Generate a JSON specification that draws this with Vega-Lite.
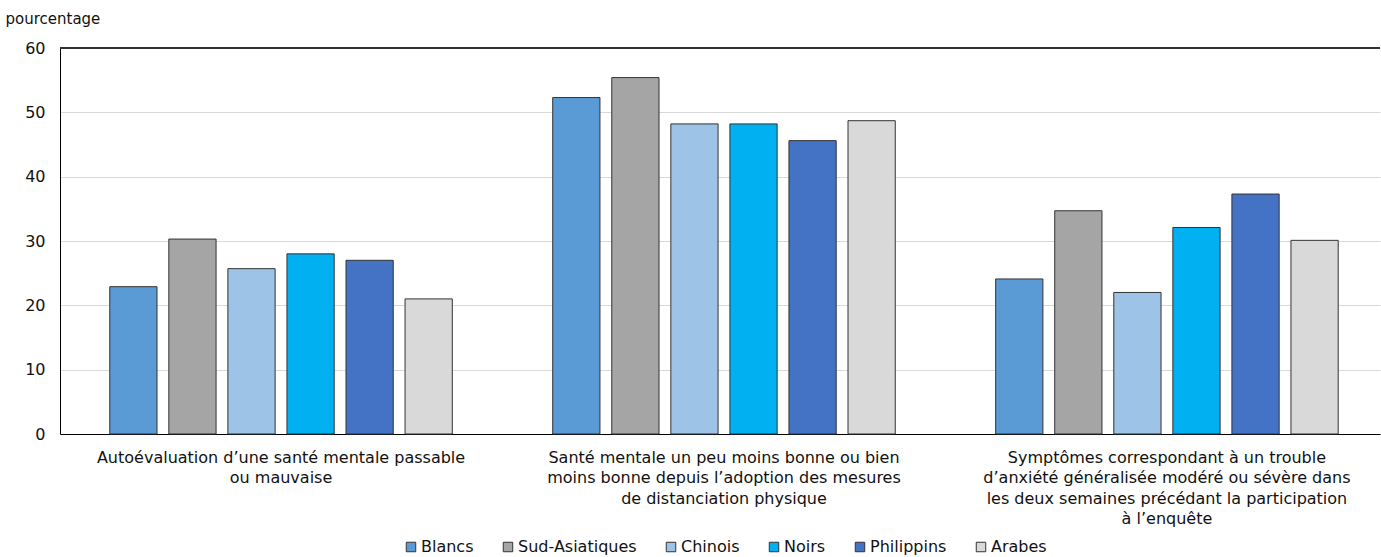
{
  "$schema": "https://vega.github.io/schema/vega-lite/v6.json",
  "width": 1320,
  "height": 386,
  "autosize": {"type": "none"},
  "padding": {"left": 60, "top": 48, "right": 1, "bottom": 123},
  "background": "white",
  "config": {
    "font": "DejaVu Sans",
    "view": {"stroke": null},
    "axis": {"labelFont": "DejaVu Sans", "titleFont": "DejaVu Sans", "labelColor": "#111", "titleColor": "#111"},
    "legend": {"labelFont": "DejaVu Sans"}
  },
  "data": {
    "values": [
      {"indicateur": "Autoévaluation d’une santé mentale passable|ou mauvaise", "groupe": "Blancs", "pourcentage": 22.9},
      {"indicateur": "Autoévaluation d’une santé mentale passable|ou mauvaise", "groupe": "Sud-Asiatiques", "pourcentage": 30.3},
      {"indicateur": "Autoévaluation d’une santé mentale passable|ou mauvaise", "groupe": "Chinois", "pourcentage": 25.7},
      {"indicateur": "Autoévaluation d’une santé mentale passable|ou mauvaise", "groupe": "Noirs", "pourcentage": 28.0},
      {"indicateur": "Autoévaluation d’une santé mentale passable|ou mauvaise", "groupe": "Philippins", "pourcentage": 27.0},
      {"indicateur": "Autoévaluation d’une santé mentale passable|ou mauvaise", "groupe": "Arabes", "pourcentage": 21.0},
      {"indicateur": "Santé mentale un peu moins bonne ou bien|moins bonne depuis l’adoption des mesures|de distanciation physique", "groupe": "Blancs", "pourcentage": 52.3},
      {"indicateur": "Santé mentale un peu moins bonne ou bien|moins bonne depuis l’adoption des mesures|de distanciation physique", "groupe": "Sud-Asiatiques", "pourcentage": 55.4},
      {"indicateur": "Santé mentale un peu moins bonne ou bien|moins bonne depuis l’adoption des mesures|de distanciation physique", "groupe": "Chinois", "pourcentage": 48.2},
      {"indicateur": "Santé mentale un peu moins bonne ou bien|moins bonne depuis l’adoption des mesures|de distanciation physique", "groupe": "Noirs", "pourcentage": 48.2},
      {"indicateur": "Santé mentale un peu moins bonne ou bien|moins bonne depuis l’adoption des mesures|de distanciation physique", "groupe": "Philippins", "pourcentage": 45.6},
      {"indicateur": "Santé mentale un peu moins bonne ou bien|moins bonne depuis l’adoption des mesures|de distanciation physique", "groupe": "Arabes", "pourcentage": 48.7},
      {"indicateur": "Symptômes correspondant à un trouble|d’anxiété généralisée modéré ou sévère dans|les deux semaines précédant la participation|à l’enquête", "groupe": "Blancs", "pourcentage": 24.1},
      {"indicateur": "Symptômes correspondant à un trouble|d’anxiété généralisée modéré ou sévère dans|les deux semaines précédant la participation|à l’enquête", "groupe": "Sud-Asiatiques", "pourcentage": 34.7},
      {"indicateur": "Symptômes correspondant à un trouble|d’anxiété généralisée modéré ou sévère dans|les deux semaines précédant la participation|à l’enquête", "groupe": "Chinois", "pourcentage": 22.0},
      {"indicateur": "Symptômes correspondant à un trouble|d’anxiété généralisée modéré ou sévère dans|les deux semaines précédant la participation|à l’enquête", "groupe": "Noirs", "pourcentage": 32.1},
      {"indicateur": "Symptômes correspondant à un trouble|d’anxiété généralisée modéré ou sévère dans|les deux semaines précédant la participation|à l’enquête", "groupe": "Philippins", "pourcentage": 37.3},
      {"indicateur": "Symptômes correspondant à un trouble|d’anxiété généralisée modéré ou sévère dans|les deux semaines précédant la participation|à l’enquête", "groupe": "Arabes", "pourcentage": 30.1}
    ]
  },
  "layer": [
    {
      "mark": {"type": "bar", "stroke": "#333333", "strokeWidth": 1},
      "encoding": {
        "x": {
          "field": "indicateur",
          "type": "nominal",
          "sort": null,
          "scale": {"paddingInner": 0.2, "paddingOuter": 0.09, "align": 0.55},
          "axis": {
            "title": null,
            "labelAngle": 0,
            "labelExpr": "split(datum.label, '|')",
            "labelFontSize": 16,
            "labelLineHeight": 20.5,
            "labelPadding": 15,
            "labelLimit": 0,
            "ticks": false,
            "domainColor": "#000000",
            "domainWidth": 1,
            "labelBaseline": "top"
          }
        },
        "xOffset": {
          "field": "groupe",
          "type": "nominal",
          "sort": ["Blancs", "Sud-Asiatiques", "Chinois", "Noirs", "Philippins", "Arabes"],
          "scale": {"paddingInner": 0.2, "paddingOuter": 0.1}
        },
        "y": {
          "field": "pourcentage",
          "type": "quantitative",
          "scale": {"domain": [0, 60], "nice": false},
          "axis": {
            "title": "pourcentage",
            "titleAngle": 0,
            "titleAlign": "left",
            "titleBaseline": "middle",
            "titleX": -55,
            "titleY": -30,
            "titleFontSize": 15,
            "titleFontWeight": "normal",
            "values": [0, 10, 20, 30, 40, 50, 60],
            "labelFontSize": 16,
            "labelPadding": 15,
            "ticks": false,
            "domainColor": "#000000",
            "gridColor": "#d9d9d9",
            "gridWidth": 1
          }
        },
        "color": {
          "field": "groupe",
          "type": "nominal",
          "sort": ["Blancs", "Sud-Asiatiques", "Chinois", "Noirs", "Philippins", "Arabes"],
          "scale": {
            "domain": ["Blancs", "Sud-Asiatiques", "Chinois", "Noirs", "Philippins", "Arabes"],
            "range": ["#5B9BD5", "#A5A5A5", "#9DC3E6", "#00B0F0", "#4472C4", "#D9D9D9"]
          },
          "legend": {
            "title": null,
            "orient": "none",
            "direction": "horizontal",
            "legendX": 343,
            "legendY": 491,
            "symbolType": "square",
            "symbolSize": 90,
            "symbolStrokeColor": "#333333",
            "symbolStrokeWidth": 1,
            "symbolOpacity": 1,
            "labelFontSize": 16,
            "labelColor": "#111",
            "labelOffset": 2,
            "columnPadding": 26
          }
        }
      }
    },
    {
      "mark": {"type": "rule", "color": "#333333", "strokeWidth": 1},
      "encoding": {"y": {"datum": 60}}
    }
  ]
}
